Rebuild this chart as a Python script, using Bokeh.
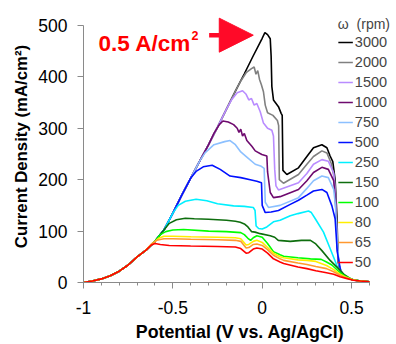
from bokeh.plotting import figure
from bokeh.models import (FixedTicker, NumeralTickFormatter, Legend, LegendItem,
                          Arrow, NormalHead, Label)
from bokeh.embed import file_html
from bokeh.resources import INLINE

# ---- data ----
# common rising branch (all rotation rates overlap here)
RISE_V = [-1.0, -0.95, -0.9, -0.85, -0.8, -0.75, -0.7, -0.65, -0.6, -0.55, -0.5,
          -0.45, -0.4, -0.35, -0.3, -0.25, -0.2, -0.15, -0.1, -0.05, 0.0, 0.015]
RISE_J = [0, 3, 7, 13, 22, 34, 50, 63, 80, 102, 135,
          170, 203, 236, 268, 302, 337, 372, 406, 441, 475, 486]

rpm_labels = ["3000", "2000", "1500", "1000", "750", "500", "250", "150", "100", "80", "65", "50"]
colors = ["#000000", "#808080", "#B98CFF", "#6E0A6E", "#8CC0FF", "#0010FF",
          "#00F0FF", "#0E6E0E", "#00FF00", "#FFEE00", "#FF9930", "#FF0000"]

# number of points taken from the common rising branch for each series
n_rise = {"3000": 22, "2000": 18, "1500": 17, "1000": 15, "750": 14, "500": 13,
          "250": 11, "150": 10, "100": 8, "80": 8, "65": 8, "50": 8}

v_3000 = [0.03, 0.045, 0.05, 0.054, 0.063, 0.091, 0.106, 0.112, 0.116, 0.138, 0.203, 0.25,
          0.287, 0.334, 0.362, 0.38, 0.395, 0.408, 0.418, 0.425, 0.44, 0.47, 0.51, 0.55, 0.6]
j_3000 = [482, 474, 440, 381, 355, 342, 329, 325, 218, 210, 223, 245,
          262, 268, 262, 246, 235, 200, 130, 40, 18, 10, 5, 3, 1.3]

v_2000 = [-0.12, -0.09, -0.06, -0.045, -0.035, -0.025, -0.015, -0.005, 0.007, 0.017, 0.03,
          0.06, 0.085, 0.092, 0.096, 0.119, 0.203, 0.25, 0.287, 0.334, 0.362, 0.386, 0.405,
          0.415, 0.425, 0.44, 0.47, 0.51, 0.55, 0.6]
j_2000 = [392, 408, 416, 419, 405, 412, 395, 385, 371, 345, 330,
          325, 315, 305, 200, 193, 210, 230, 245, 256, 252, 232, 200,
          120, 40, 18, 10, 5, 3, 1.3]

v_1500 = [-0.17, -0.14, -0.11, -0.09, -0.075, -0.06, -0.045, -0.03, -0.011, 0.007, 0.03,
          0.054, 0.063, 0.07, 0.077, 0.091, 0.203, 0.25, 0.287, 0.334, 0.37, 0.4, 0.41,
          0.42, 0.43, 0.45, 0.47, 0.51, 0.55, 0.6]
j_1500 = [356, 369, 373, 366, 355, 358, 345, 348, 332, 310, 300,
          296, 285, 220, 188, 180, 194, 212, 230, 239, 236, 213, 170,
          70, 32, 15, 10, 5, 3, 1.3]

v_1000 = [-0.27, -0.24, -0.22, -0.19, -0.16, -0.14, -0.13, -0.12, -0.11, -0.1, -0.086,
          -0.058, -0.039, -0.002, 0.026, 0.03, 0.045, 0.063, 0.1, 0.203, 0.25, 0.287, 0.334,
          0.37, 0.4, 0.41, 0.42, 0.43, 0.45, 0.47, 0.51, 0.55, 0.6]
j_1000 = [290, 307, 314, 312, 307, 300, 292, 298, 285, 290, 276,
          265, 256, 249, 246, 215, 175, 165, 167, 181, 198, 214, 224,
          220, 198, 160, 70, 32, 15, 10, 5, 3, 1.3]

v_750 = [-0.32, -0.27, -0.21, -0.18, -0.15, -0.12, -0.086, -0.039, -0.005, 0.011, 0.017,
         0.035, 0.1, 0.203, 0.25, 0.287, 0.334, 0.37, 0.4, 0.41, 0.42, 0.43, 0.45, 0.47,
         0.51, 0.55, 0.6]
j_750 = [252, 268, 274, 276, 268, 254, 244, 230, 226, 222, 156,
         146, 150, 165, 183, 198, 207, 204, 181, 150, 80, 35, 15, 10,
         5, 3, 1.3]

v_500 = [-0.37, -0.33, -0.28, -0.235, -0.18, -0.12, -0.067, -0.03, -0.004, 0.0, 0.017,
         0.05, 0.091, 0.157, 0.203, 0.25, 0.287, 0.334, 0.362, 0.39, 0.408, 0.42, 0.44,
         0.47, 0.51, 0.55, 0.6]
j_500 = [216, 225, 228, 220, 207, 204, 200, 197, 194, 150, 136,
         137, 140, 152, 160, 170, 178, 181, 175, 149, 124, 60, 20,
         10, 5, 3, 1.3]

v_250 = [-0.47, -0.43, -0.37, -0.31, -0.25, -0.16, -0.1, -0.05, -0.04, -0.034, -0.02,
         0.0, 0.026, 0.063, 0.1, 0.157, 0.2, 0.259, 0.275, 0.297, 0.343, 0.38, 0.418,
         0.45, 0.5, 0.55, 0.6]
j_250 = [150, 158, 162, 159, 153, 149, 148, 146, 140, 110, 105,
         104, 108, 118, 121, 130, 134, 139, 136, 124, 98, 66, 33,
         14, 6, 3, 1.3]

v_150 = [-0.52, -0.48, -0.43, -0.38, -0.3, -0.2, -0.15, -0.123, -0.1, -0.08, -0.06,
         -0.04, -0.011, 0.045, 0.07, 0.09, 0.157, 0.22, 0.27, 0.3, 0.334, 0.38, 0.427,
         0.46, 0.5, 0.55, 0.6]
j_150 = [115, 122, 125, 124, 123, 121, 119, 117, 114, 108, 99,
         98, 95, 91, 88, 82, 80, 82, 82, 75, 62, 43, 27,
         15, 6, 3, 1.3]

v_100 = [-0.6, -0.57, -0.54, -0.5, -0.44, -0.3, -0.2, -0.12, -0.1, -0.08, -0.065, -0.05,
         -0.03, 0.0, 0.03, 0.063, 0.1, 0.12, 0.2, 0.27, 0.33, 0.36, 0.39, 0.436, 0.47,
         0.51, 0.55, 0.6]
j_100 = [80, 93, 99, 102, 103, 100, 99, 97, 93, 86, 82, 87,
         91, 88, 76, 60, 54, 51, 48, 46, 45, 40, 34, 19, 11,
         5.5, 3, 1.3]

v_80 = [-0.61, -0.58, -0.55, -0.5, -0.4, -0.25, -0.15, -0.12, -0.09, -0.075, -0.05, -0.03,
        0.0, 0.03, 0.063, 0.1, 0.12, 0.2, 0.25, 0.3, 0.36, 0.4, 0.436, 0.47, 0.51, 0.55, 0.6]
j_80 = [77, 86, 90, 90, 89, 88, 87, 85, 73, 74, 80, 82,
        78, 68, 57, 50, 48, 44, 43, 41, 33, 25, 16, 10, 5, 3, 1.3]

v_65 = [-0.62, -0.59, -0.55, -0.5, -0.4, -0.25, -0.15, -0.12, -0.09, -0.075, -0.05, -0.03,
        0.0, 0.03, 0.063, 0.1, 0.12, 0.2, 0.25, 0.3, 0.36, 0.4, 0.436, 0.47, 0.51, 0.55, 0.6]
j_65 = [75, 82, 85, 85, 84, 83, 82, 80, 67, 68, 74, 75,
        72, 64, 53, 46, 43, 38, 35, 31, 27, 21, 14, 9, 5, 3, 1.3]

v_50 = [-0.62, -0.6, -0.57, -0.52, -0.4, -0.25, -0.15, -0.12, -0.09, -0.075, -0.05, -0.03,
        0.0, 0.03, 0.063, 0.1, 0.12, 0.2, 0.25, 0.3, 0.36, 0.4, 0.436, 0.47, 0.51, 0.55, 0.6]
j_50 = [73, 76, 74, 72, 71, 70, 69, 66, 57, 58, 65, 67,
        65, 57, 46, 40, 37, 30, 27, 23, 19, 16, 11, 8, 4.5, 3, 1.3]

own = {"3000": (v_3000, j_3000), "2000": (v_2000, j_2000), "1500": (v_1500, j_1500),
       "1000": (v_1000, j_1000), "750": (v_750, j_750), "500": (v_500, j_500),
       "250": (v_250, j_250), "150": (v_150, j_150), "100": (v_100, j_100),
       "80": (v_80, j_80), "65": (v_65, j_65), "50": (v_50, j_50)}

x_ticks = [-1, -0.5, 0, 0.5]
x_minor = [-0.9, -0.8, -0.7, -0.6, -0.4, -0.3, -0.2, -0.1, 0.1, 0.2, 0.3, 0.4, 0.6]
y_ticks = [0, 100, 200, 300, 400, 500]

FONT = "Liberation Sans"
AXIS_GRAY = "#8a8a8a"

p = figure(width=396, height=344, x_range=(-1, 0.7515), y_range=(0, 529),
           output_backend="svg", toolbar_location=None,
           min_border_left=83, min_border_right=0, min_border_top=10, min_border_bottom=60)
p.outline_line_color = None
p.grid.visible = False
p.background_fill_color = "white"

items = []
for lab, col in zip(rpm_labels, colors):
    k = n_rise[lab]
    vv, jj = own[lab]
    xs = RISE_V[:k] + vv
    ys = RISE_J[:k] + jj
    r = p.line(xs, ys, line_color=col, line_width=1.6)
    items.append((lab, r))

# axes
xa = p.xaxis[0]
xa.ticker = FixedTicker(ticks=x_ticks, minor_ticks=x_minor)
xa.formatter = NumeralTickFormatter(format="0.[0]")
xa.bounds = (-1, 0.6)
xa.axis_label = "Potential (V vs. Ag/AgCl)"
ya = p.yaxis[0]
ya.ticker = FixedTicker(ticks=y_ticks, minor_ticks=[])
ya.bounds = (0, 500)
ya.axis_label = "Current Density (mA/cm²)"

for ax in (xa, ya):
    ax.axis_line_color = AXIS_GRAY
    ax.axis_line_width = 1
    ax.major_tick_line_color = AXIS_GRAY
    ax.minor_tick_line_color = AXIS_GRAY
    ax.major_tick_in = 0
    ax.major_tick_out = 6
    ax.minor_tick_in = 0
    ax.minor_tick_out = 3
    ax.major_label_text_font = FONT
    ax.major_label_text_font_size = "17.5px"
    ax.major_label_text_color = "black"
    ax.axis_label_text_font = FONT
    ax.axis_label_text_font_style = "bold"
    ax.axis_label_text_color = "black"
ya.minor_tick_line_color = None
xa.axis_label_text_font_size = "17.8px"
ya.axis_label_text_font_size = "16.8px"
xa.major_label_standoff = 12
ya.major_label_standoff = 10
xa.axis_label_standoff = 5
ya.axis_label_standoff = 4

legend = Legend(items=[LegendItem(label=l, renderers=[r]) for l, r in items],
                location="top_right", title="ω  (rpm)")
legend.title_text_font = FONT
legend.title_text_font_size = "14px"
legend.title_text_font_style = "normal"
legend.title_standoff = 0
legend.label_text_font = FONT
legend.label_text_font_size = "14.5px"
legend.glyph_width = 15
legend.glyph_height = 20
legend.label_height = 20
legend.label_standoff = 2
legend.spacing = 0
legend.padding = 0
legend.margin = 6
legend.border_line_color = None
legend.background_fill_alpha = 0
p.add_layout(legend)

RED = "#FF0000"
ARROW_RED = "#FF0A28"
arrow = Arrow(end=NormalHead(size=34, fill_color=ARROW_RED, line_color=ARROW_RED, line_width=1),
              x_start=-0.297, y_start=481, x_end=-0.05, y_end=481,
              line_color=ARROW_RED, line_width=4.5)
p.add_layout(arrow)
p.add_layout(Label(x=-0.916, y=465, text="0.5 A/cm", text_font=FONT,
                   text_font_size="22.5px", text_font_style="bold", text_color=RED,
                   text_baseline="alphabetic"))
p.add_layout(Label(x=-0.3956, y=481, text="2", text_font=FONT,
                   text_font_size="12.5px", text_font_style="bold", text_color=RED,
                   text_baseline="alphabetic"))

open("out.html", "w").write(file_html(p, INLINE))
